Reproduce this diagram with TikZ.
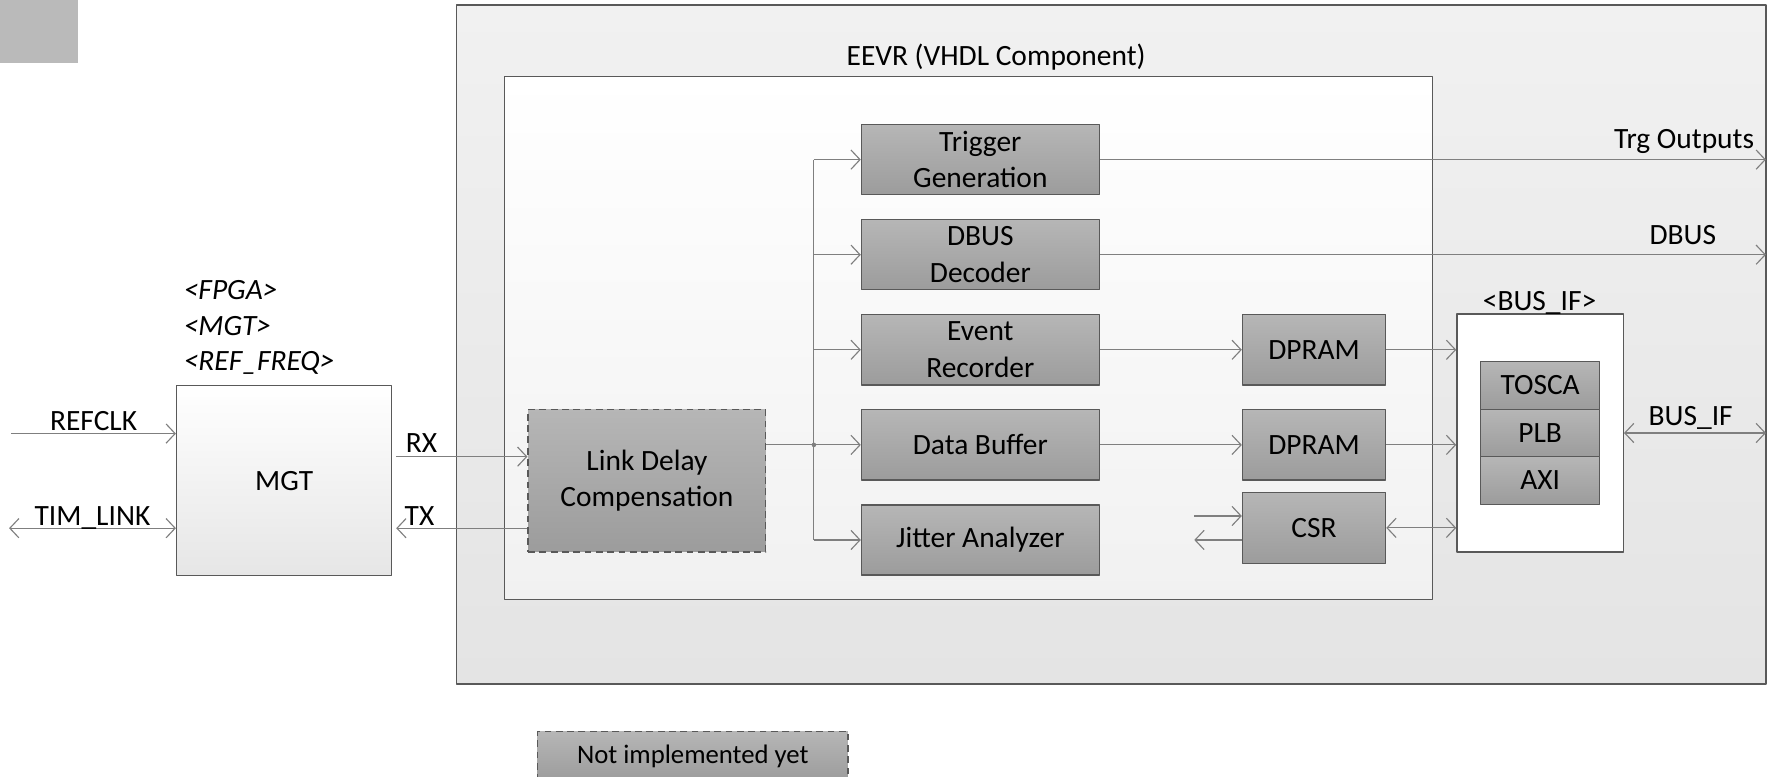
\documentclass[tikz,border=0pt]{standalone}
\usepackage{fontspec}
\setmainfont{Carlito}
\usetikzlibrary{arrows.meta}
\definecolor{edge}{HTML}{595959}
\definecolor{wire}{HTML}{7F7F7F}
\definecolor{blktop}{HTML}{B6B6B6}
\definecolor{blkbot}{HTML}{9C9C9C}
\definecolor{outtop}{HTML}{F1F1F1}
\definecolor{outbot}{HTML}{E4E4E4}
\definecolor{intbot}{HTML}{F1F1F1}
\definecolor{mgtbot}{HTML}{E6E6E6}
\definecolor{patch}{HTML}{BABABA}
\tikzset{
  blk/.style={draw=edge, line width=.6pt, top color=blktop, bottom color=blkbot,
    align=center, inner sep=0pt, minimum width=105pt, minimum height=31pt},
  ram/.style={blk, minimum width=63.2pt},
  bussub/.style={blk, minimum width=52.5pt, minimum height=21pt},
  todo/.style={blk, dash pattern=on 3pt off 2pt},
  wireline/.style={draw=wire, line width=.5pt},
  lbl/.style={inner sep=0pt, anchor=base},
  frame/.style={draw=edge, line width=.6pt},
}
\begin{document}
\begin{tikzpicture}[x=.5pt, y=-.5pt, font=\fontsize{13}{16.2}\selectfont,
    >={Straight Barb[length=4pt,width=8.5pt]}, line join=round]
\useasboundingbox (0,0) rectangle (1568,686);
\fill[patch] (0,0) rectangle (69,55.5);
% FPGA and EEVR frames
\draw[frame, top color=outtop, bottom color=outbot] (403.4,4.5) rectangle (1560,604.2);
\node[lbl] (eevrlbl) at (880,57.5) {EEVR (VHDL Component)};
\draw[frame, top color=white, bottom color=intbot] (445.5,67.5) rectangle (1265.5,529.5);

% MGT
\node[frame, top color=white, bottom color=mgtbot, minimum width=95pt, minimum height=84pt, inner sep=0pt] (mgt) at (251,424.6) {MGT};
\node[lbl, anchor=base west, font=\fontsize{13}{16.2}\selectfont\itshape] (gfpga) at (162,265) {<FPGA>};
\node[lbl, anchor=base west, font=\fontsize{13}{16.2}\selectfont\itshape] (gmgt) at (162,296) {<MGT>};
\node[lbl, anchor=base west, font=\fontsize{13}{16.2}\selectfont\itshape] (gref) at (162,327) {<REF\_FREQ>};

% blocks
\node[todo, minimum height=63pt] (ldc) at (571.5,424.5) {Link Delay\\Compensation};
\node[blk] (trig) at (866,141) {Trigger\\Generation};
\node[blk] (dbus) at (866,225) {DBUS\\Decoder};
\node[blk] (evr) at (866,309) {Event\\Recorder};
\node[blk] (dbuf) at (866,393) {Data Buffer};
\node[blk] (jit) at (866,477) {Jitter Analyzer};
\node[ram] (dp1) at (1160.8,309) {DPRAM};
\node[ram] (dp2) at (1160.8,393) {DPRAM};
\node[ram, minimum height=31.5pt] (csr) at (1160.8,466.3) {CSR};

% bus interface
\node[frame, fill=white, minimum width=73.5pt, minimum height=105pt] (busif) at (1360.5,382.5) {};
\node[lbl] (busiflbl) at (1360,274.5) {<BUS\_IF>};
\node[bussub] (tosca) at (1360.5,340.5) {TOSCA};
\node[bussub] (plb) at (1360.5,382.5) {PLB};
\node[bussub] (axi) at (1360.5,424.4) {AXI};

% ports
\coordinate (refin) at (10,383);
\coordinate (timin) at (8,466.6);
\coordinate (rx) at (350,403.4);
\coordinate (tx) at (350,466.6);
\coordinate (jn) at (719,393);
\coordinate (outedge) at (1560,0);
\coordinate (csrin) at (1055,455.8);
\coordinate (csrout) at (1055,477);

\draw[wireline, ->] (refin) -- node[lbl, yshift=1.5pt] (refclk) {REFCLK} (refin -| mgt.west);
\draw[wireline, <->] (timin) -- node[lbl, yshift=1.4pt] (timlink) {TIM\_LINK} (timin -| mgt.west);
\draw[wireline, ->] (rx) -- node[pos=0, lbl, anchor=base west, xshift=4pt, yshift=1.7pt] (rxlbl) {RX} (rx -| ldc.west);
\draw[wireline, <-] (tx) -- node[pos=0, lbl, anchor=base west, xshift=3.5pt, yshift=1.4pt] (txlbl) {TX} (tx -| ldc.west);

\draw[wireline] (ldc.east |- jn) -- (jn);
\fill[wire] (jn) circle (1pt);
\draw[wireline] (jn |- trig.west) -- (jn |- jit.west);
\foreach \b in {trig,dbus,evr,dbuf,jit}
  \draw[wireline, ->] (jn |- \b.west) -- (\b.west);

\draw[wireline, ->] (trig.east) -- node[pos=1, lbl, anchor=base east, xshift=-5pt, yshift=4.7pt] (trglbl) {Trg Outputs} (trig.east -| outedge);
\draw[wireline, ->] (dbus.east) -- (dbus.east -| outedge);
\node[lbl] (dbuslbl) at (1486.5,216.4) {DBUS};
\draw[wireline, ->] (evr) -- (dp1);
\draw[wireline, ->] (dbuf) -- (dp2);
\draw[wireline, ->] (dp1) -- (dp1 -| busif.west);
\draw[wireline, ->] (dp2) -- (dp2 -| busif.west);
\draw[wireline, <->] (csr) -- (csr -| busif.west);
\draw[wireline, ->] (csrin) -- (csrin -| csr.west);
\draw[wireline, ->] (csrout -| csr.west) -- (csrout);
\draw[wireline, <->] (busif.east) -- node[pos=.47, lbl, yshift=3.3pt] (buslbl) {BUS\_IF} (busif.east -| outedge);

% legend
\node[todo, minimum width=137pt, minimum height=22pt, font=\fontsize{11.8}{14}\selectfont] (note) at (612,668) {Not implemented yet};
\end{tikzpicture}
\end{document}
